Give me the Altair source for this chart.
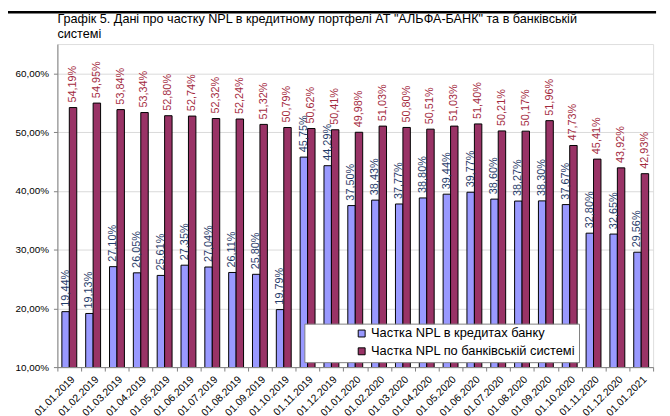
import altair as alt
import pandas as pd

dates = ["01.01.2019", "01.02.2019", "01.03.2019", "01.04.2019", "01.05.2019",
         "01.06.2019", "01.07.2019", "01.08.2019", "01.09.2019", "01.10.2019",
         "01.11.2019", "01.12.2019", "01.01.2020", "01.02.2020", "01.03.2020",
         "01.04.2020", "01.05.2020", "01.06.2020", "01.07.2020", "01.08.2020",
         "01.09.2020", "01.10.2020", "01.11.2020", "01.12.2020", "01.01.2021"]

bank_npl = [19.44, 19.13, 27.10, 26.05, 25.61, 27.35, 27.04, 26.11, 25.80, 19.79,
            45.75, 44.29, 37.50, 38.43, 37.77, 38.80, 39.44, 39.77, 38.60, 38.27,
            38.30, 37.67, 32.80, 32.65, 29.56]

system_npl = [54.19, 54.95, 53.84, 53.34, 52.80, 52.74, 52.32, 52.24, 51.32, 50.79,
              50.62, 50.41, 49.98, 51.03, 50.80, 50.51, 51.03, 51.40, 50.21, 50.17,
              51.96, 47.73, 45.41, 43.92, 42.93]

series_names = ["Частка NPL в кредитах банку", "Частка NPL по банківській системі"]
series_colors = ["#9999FF", "#993366"]
label_colors = ["#1F3A68", "#A3293D"]

y_ticks = [0.10, 0.20, 0.30, 0.40, 0.50, 0.60]

title_lines = ["Графік 5. Дані про частку NPL в кредитному портфелі АТ \"АЛЬФА-БАНК\" та в банківській",
               "системі"]

rows = []
for d, b, s in zip(dates, bank_npl, system_npl):
    rows.append({"date": d, "series": series_names[0], "value": b / 100})
    rows.append({"date": d, "series": series_names[1], "value": s / 100})
df = pd.DataFrame(rows)

FONT = "Liberation Sans"

x_enc = alt.X("date:N", sort=dates, title=None,
              scale=alt.Scale(paddingInner=0, paddingOuter=0),
              axis=alt.Axis(labelAngle=-45, labelFontSize=10.5, labelFont=FONT,
                            labelColor="#000000", tickBand="extent", tickSize=4,
                            tickColor="#808080", domainColor="#808080",
                            labelPadding=3, grid=False))
xoff_enc = alt.XOffset("series:N", sort=series_names,
                       scale=alt.Scale(paddingInner=0, paddingOuter=0.6))
y_enc = alt.Y("value:Q", title=None,
              scale=alt.Scale(domain=[0.10, 0.65], zero=False, nice=False),
              axis=alt.Axis(values=y_ticks,
                            labelExpr="replace(format(datum.value, '.2%'), '.', ',')",
                            labelFontSize=10, labelFont=FONT, labelColor="#000000",
                            tickSize=4, tickColor="#808080", domainColor="#808080",
                            gridColor="#D9D9D9", labelPadding=5))

bars = alt.Chart(df).mark_bar(stroke="#000000", strokeWidth=1, clip=True).encode(
    x=x_enc,
    xOffset=xoff_enc,
    y=y_enc,
    color=alt.Color("series:N", sort=series_names,
                    scale=alt.Scale(domain=series_names, range=series_colors),
                    legend=alt.Legend(
                        title=None, orient="none", legendX=250, legendY=283,
                        direction="vertical", fillColor="#FFFFFF", strokeColor="#808080",
                        padding=3.5, symbolType="square", symbolSize=49,
                        symbolStrokeColor="#000000", symbolStrokeWidth=1,
                        symbolOffset=48, labelFontSize=13, labelFont=FONT,
                        labelColor="#000000", labelLimit=600, rowPadding=4,
                        labelOffset=3)),
)

labels = alt.Chart(df).mark_text(angle=270, align="left", baseline="middle",
                                 dx=5, fontSize=11, font=FONT).encode(
    x=alt.X("date:N", sort=dates),
    xOffset=alt.XOffset("series:N", sort=series_names),
    y=alt.Y("value:Q"),
    text=alt.Text("label:N"),
    color=alt.condition(alt.datum.series == series_names[0],
                        alt.value(label_colors[0]), alt.value(label_colors[1])),
).transform_calculate(
    label="replace(format(datum.value, '.2%'), '.', ',')"
)

top_line = alt.Chart(pd.DataFrame({"k": [0]})).mark_rect(
    color="#000000", fill="#000000", opacity=1).encode(
    x=alt.value(-50), x2=alt.value(606), y=alt.value(-33.5), y2=alt.value(-31))

chart = alt.layer(bars, labels, top_line).properties(
    width=603, height=327,
    title=alt.TitleParams(text=title_lines, anchor="start", frame="group",
                          font=FONT, fontSize=12.8, fontWeight="normal",
                          color="#000000", offset=-30.5, lineHeight=16),
    autosize=alt.AutoSizeParams(type="none"),
    padding={"left": 50, "top": 34, "right": 9, "bottom": 47},
).configure_view(stroke="#A0A0A0", strokeWidth=1).configure(background="#FFFFFF")

chart.save("out.html", embed_options={"renderer": "svg", "actions": False})
